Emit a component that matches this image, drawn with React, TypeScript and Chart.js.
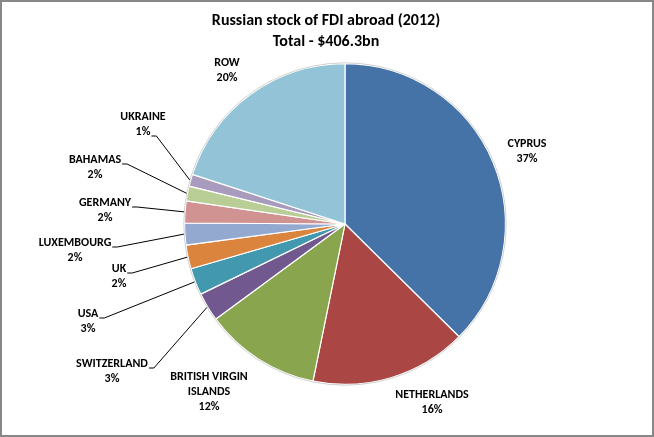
import React, { useEffect, useRef } from 'react';
import { Chart, registerables } from 'chart.js';

Chart.register(...registerables);

const countries = ['CYPRUS', 'NETHERLANDS', 'BRITISH VIRGIN ISLANDS', 'SWITZERLAND', 'USA', 'UK', 'LUXEMBOURG', 'GERMANY', 'BAHAMAS', 'UKRAINE', 'ROW'];
const labelLines = [['CYPRUS'], ['NETHERLANDS'], ['BRITISH VIRGIN', 'ISLANDS'], ['SWITZERLAND'], ['USA'], ['UK'], ['LUXEMBOURG'], ['GERMANY'], ['BAHAMAS'], ['UKRAINE'], ['ROW']];
const shares = [37.4, 15.8, 11.7, 2.9, 2.7, 2.4, 2.2, 2.2, 1.5, 1.2, 20.0];
const colors = ['#4572A7', '#AA4643', '#89A54E', '#71588F', '#4198AF', '#DB843D', '#93A9CF', '#D19392', '#B9CD96', '#A99BBD', '#92C3D6'];
const titleLines = ['Russian stock of FDI abroad (2012)', 'Total - $406.3bn'];

// label layout (text centre x, first line centre y) and which text line carries the leader
const labelPos: [number, number][] = [[527, 144], [432, 395], [209, 377], [112, 364], [88, 314], [119, 269], [75, 243], [105, 203], [95, 160], [143, 117], [227, 63]];
const leaderLine: (number | null)[] = [null, null, null, 0, 0, 0, 0, 0, 0, 1, null];

const FONT = "Carlito, Calibri, 'Liberation Sans Narrow', 'Open Sans', sans-serif";

const overlay = {
  id: 'overlay',
  afterDraw(chart: any) {
    const ctx = chart.ctx as CanvasRenderingContext2D;
    ctx.save();
    const meta = chart.getDatasetMeta(0);
    // faint outer rim like the reference
    const a0 = meta.data[0].getProps(['x', 'y', 'outerRadius'], true);
    ctx.strokeStyle = 'rgba(180,180,180,0.6)';
    ctx.lineWidth = 1;
    ctx.beginPath();
    ctx.arc(a0.x, a0.y, a0.outerRadius + 0.8, 0, Math.PI * 2);
    ctx.stroke();

    // title
    ctx.fillStyle = '#000';
    ctx.textAlign = 'center';
    ctx.textBaseline = 'middle';
    ctx.font = `bold 16px ${FONT}`;
    ctx.fillText(titleLines[0], 326, 21);
    ctx.fillText(titleLines[1], 326, 42);

    const lh = 15;
    ctx.font = `bold 12px ${FONT}`;
    meta.data.forEach((arc: any, i: number) => {
      const p = arc.getProps(['x', 'y', 'startAngle', 'endAngle', 'outerRadius'], true);
      const [lx, ly] = labelPos[i];
      const lines = [...labelLines[i], Math.round(shares[i]) + '%'];
      ctx.fillStyle = '#000';
      lines.forEach((t, k) => ctx.fillText(t, lx, ly + k * lh));
      const li = leaderLine[i];
      if (li !== null) {
        const w = ctx.measureText(lines[li]).width;
        const sx = lx + w / 2 + 1;
        const sy = ly + li * lh + 4;
        const mid = (p.startAngle + p.endAngle) / 2;
        const ex = p.x + Math.cos(mid) * (p.outerRadius + 1);
        const ey = p.y + Math.sin(mid) * (p.outerRadius + 1);
        ctx.strokeStyle = '#000';
        ctx.lineWidth = 1;
        ctx.beginPath();
        ctx.moveTo(sx, sy);
        ctx.lineTo(sx + 5, sy);
        ctx.lineTo(ex, ey);
        ctx.stroke();
      }
    });

    // outer frame
    ctx.strokeStyle = '#878787';
    ctx.lineWidth = 2;
    ctx.strokeRect(1, 1, chart.width - 2, chart.height - 2);
    ctx.restore();
  },
};

export default function App() {
  const ref = useRef<HTMLCanvasElement>(null);
  useEffect(() => {
    document.body.style.margin = '0';
    const chart = new Chart(ref.current!, {
      type: 'pie',
      data: {
        labels: countries,
        datasets: [{
          data: shares,
          backgroundColor: colors,
          borderColor: '#ffffff',
          borderWidth: 1.2,
        }],
      },
      options: {
        responsive: false,
        animation: false,
        devicePixelRatio: 1,
        layout: { padding: { top: 63, bottom: 52, left: 184, right: 148 } },
        plugins: { legend: { display: false }, tooltip: { enabled: false }, title: { display: false } },
      },
      plugins: [overlay],
    });
    return () => chart.destroy();
  }, []);
  return (
    <div style={{ width: 654, height: 437, background: '#fff' }}>
      <canvas ref={ref} width={654} height={437} style={{ display: 'block' }} />
    </div>
  );
}
